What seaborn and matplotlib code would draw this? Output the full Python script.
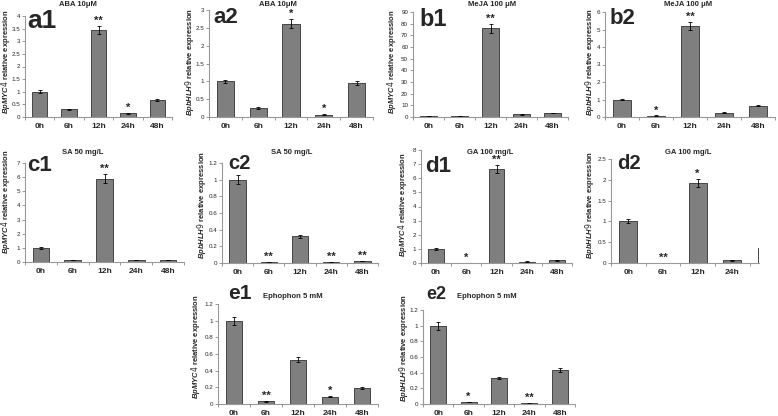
import numpy as np
import pandas as pd
import matplotlib
matplotlib.use("Agg")
import matplotlib.pyplot as plt
import seaborn as sns

# time points
times = ['0h', '6h', '12h', '24h', '48h']

# relative expression, error bars and significance marks per panel
a1_vals = [1.0, 0.30, 3.45, 0.15, 0.67]
a1_err = [0.05, 0.02, 0.17, 0.02, 0.03]
a1_sig = ['', '', '**', '*', '']

a2_vals = [1.0, 0.25, 2.62, 0.07, 0.96]
a2_err = [0.05, 0.02, 0.13, 0.01, 0.05]
a2_sig = ['', '', '*', '*', '']

b1_vals = [1.0, 0.6, 76.0, 2.2, 3.5]
b1_err = [0.1, 0.05, 4.0, 0.2, 0.3]
b1_sig = ['', '', '**', '', '']

b2_vals = [1.0, 0.08, 5.2, 0.25, 0.65]
b2_err = [0.05, 0.01, 0.25, 0.02, 0.03]
b2_sig = ['', '*', '**', '', '']

c1_vals = [1.0, 0.15, 5.9, 0.15, 0.12]
c1_err = [0.05, 0.01, 0.3, 0.02, 0.01]
c1_sig = ['', '', '**', '', '']

c2_vals = [1.0, 0.015, 0.32, 0.01, 0.025]
c2_err = [0.05, 0.003, 0.015, 0.002, 0.003]
c2_sig = ['', '**', '', '**', '**']

d1_vals = [1.0, 0.03, 6.65, 0.10, 0.18]
d1_err = [0.05, 0.005, 0.3, 0.01, 0.02]
d1_sig = ['', '*', '**', '', '']

d2_vals = [1.0, 0.01, 1.93, 0.07, 0.37]
d2_err = [0.05, 0.002, 0.1, 0.01, 0.02]
d2_sig = ['', '**', '*', '', '']

e1_vals = [1.0, 0.035, 0.53, 0.09, 0.19]
e1_err = [0.05, 0.005, 0.03, 0.005, 0.01]
e1_sig = ['', '**', '', '*', '']

e2_vals = [1.0, 0.025, 0.33, 0.008, 0.43]
e2_err = [0.05, 0.003, 0.015, 0.002, 0.025]
e2_sig = ['', '*', '', '**', '']

titles = ['ABA 10μM', 'ABA 10μM', 'MeJA 100 μM', 'MeJA 100 μM', 'SA 50 mg/L',
          'SA 50 mg/L', 'GA 100 mg/L', 'GA 100 mg/L', 'Ephophon 5 mM', 'Ephophon 5 mM']
names = ['a1', 'a2', 'b1', 'b2', 'c1', 'c2', 'd1', 'd2', 'e1', 'e2']
genes = ['BpMYC4', 'BpbHLH9'] * 5
ymax = [4, 3, 90, 6, 7, 1.2, 8, 2.5, 1.2, 1.2]
ystep = [0.5, 0.5, 10, 1, 1, 0.2, 1, 0.5, 0.2, 0.2]

W, H = 778, 416
sns.set_style('ticks')
plt.rcParams['font.family'] = ['Liberation Sans', 'DejaVu Sans']
plt.rcParams['mathtext.fontset'] = 'custom'
plt.rcParams['mathtext.it'] = 'Liberation Sans:italic:bold'

fig = plt.figure(figsize=(W / 100, H / 100), dpi=100)
fig.patch.set_facecolor('white')

# axes boxes in pixels: left, right, top, bottom
boxes = [(25, 172, 16, 117), (209, 373, 10, 117), (413, 568, 12, 117), (605, 775, 12, 117),
         (25, 184, 163, 262), (222, 378, 163, 263), (421, 572, 150, 263), (611, 759, 159, 263),
         (218, 378, 304, 404), (423, 575, 310, 404)]
# title centre (x, y), panel label (x, y, size), ylabel (x, y)
title_pos = [(78, 5), (278, 5), (492, 5), (688, 5), (83, 153), (292, 152), (490, 152),
             (688, 152), (293, 297), (487, 297)]
lab_pos = [(27, 9, 19), (213, 7, 16), (419, 8, 17), (610, 8, 16), (27, 155, 16),
           (228, 154, 14.5), (425, 156, 16), (617, 154, 14.5), (228, 284, 15), (426, 286, 13)]
ylab_pos = [(6, 62), (189, 62), (392, 62), (590, 62), (6, 202), (202, 205), (403, 205),
            (590, 205), (196, 347), (404, 348)]

all_vals = [a1_vals, a2_vals, b1_vals, b2_vals, c1_vals, c2_vals, d1_vals, d2_vals, e1_vals, e2_vals]
all_err = [a1_err, a2_err, b1_err, b2_err, c1_err, c2_err, d1_err, d2_err, e1_err, e2_err]
all_sig = [a1_sig, a2_sig, b1_sig, b2_sig, c1_sig, c2_sig, d1_sig, d2_sig, e1_sig, e2_sig]

for k in range(10):
    l, r, t, b = boxes[k]
    ax = fig.add_axes([l / W, 1 - b / H, (r - l) / W, (b - t) / H])
    df = pd.DataFrame({'time': times, 'value': all_vals[k]})
    sns.barplot(data=df, x='time', y='value', ax=ax, color='#7f7f7f', saturation=1,
                edgecolor='#454545', linewidth=0.7, width=0.52)
    ax.errorbar(range(5), all_vals[k], yerr=all_err[k], fmt='none', ecolor='black',
                elinewidth=0.6, capsize=1.5, capthick=0.6)
    ax.set_xticks(range(5))
    ax.set_xticklabels(times, fontsize=6, fontweight='bold')
    ax.set_xticks(np.arange(-0.5, 5, 1), minor=True)
    # d2 is cut off just after 24h in the original figure
    ax.set_xlim(-0.5, 3.77 if names[k] == 'd2' else 4.5)
    for i in range(5):
        if all_sig[k][i]:
            ax.annotate(all_sig[k][i], (i, all_vals[k][i] + all_err[k][i]), xytext=(0, 0),
                        textcoords='offset points', ha='center', va='bottom',
                        fontsize=8, fontweight='bold')
    yt = np.arange(0, ymax[k] + ystep[k] / 2, ystep[k])
    ax.set_yticks(yt)
    ax.set_yticklabels([f'{v:g}' for v in yt], fontsize=4.5)
    ax.set_ylim(0, ymax[k])
    ax.tick_params(axis='x', which='major', length=0, pad=4)
    ax.tick_params(axis='x', which='minor', length=2, width=0.6, color='#888888')
    ax.tick_params(axis='y', length=2, width=0.6, color='#888888', pad=1.5)
    ax.set_xlabel('')
    ax.set_ylabel('')
    for s in ['top', 'right']:
        ax.spines[s].set_visible(False)
    for s in ['left', 'bottom']:
        ax.spines[s].set_color('#999999')
        ax.spines[s].set_linewidth(0.8)
    ax.patch.set_alpha(0)

    tx, ty = title_pos[k]
    fig.text(tx / W, 1 - ty / H, titles[k], ha='center', va='center', fontsize=5.5,
             fontweight='bold')
    lx, ly, ls = lab_pos[k]
    fig.text(lx / W, 1 - ly / H, names[k], ha='left', va='top', fontsize=ls,
             fontweight='bold')
    yx, yy = ylab_pos[k]
    fig.text(yx / W, 1 - yy / H, r'$\mathit{' + genes[k] + '}$ relative expression',
             rotation=90, ha='center', va='center', fontsize=5.5, fontweight='bold')

fig.savefig('out.png', dpi=100, facecolor='white')
